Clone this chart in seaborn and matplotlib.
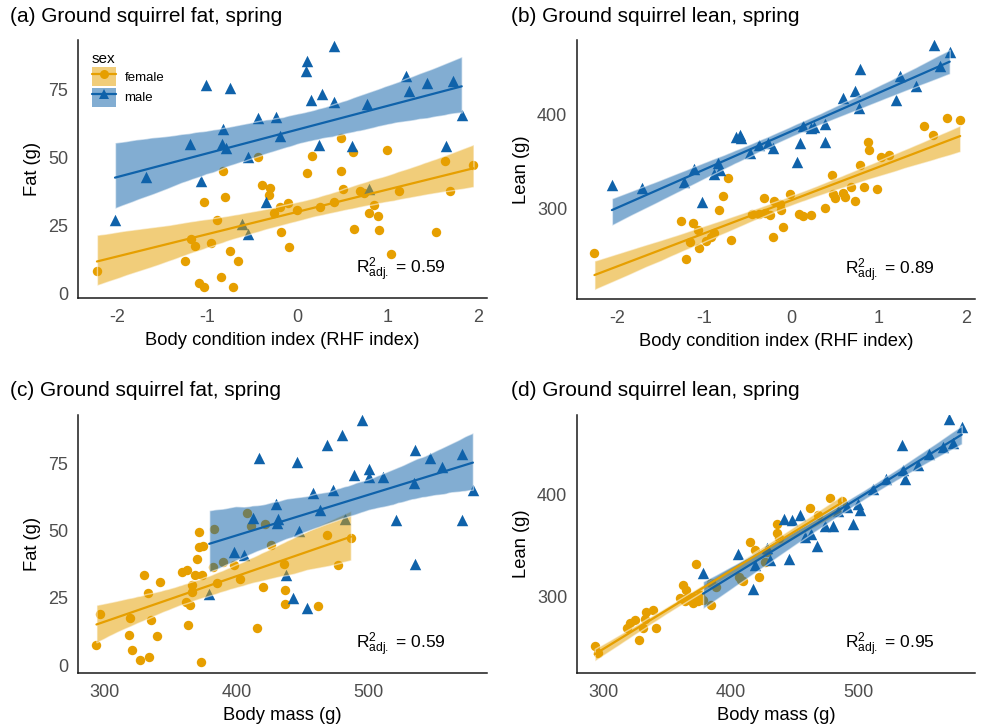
import numpy as np
import pandas as pd
import matplotlib
matplotlib.use("Agg")
import matplotlib.pyplot as plt
from matplotlib.collections import PolyCollection, PathCollection
from matplotlib.lines import Line2D
from matplotlib.patches import Patch
import seaborn as sns

# ---------------- data ----------------
# (a) fat vs body condition index
a_female_rhf = [-2.22, -1.25, -1.18, -1.13, -1.09, -1.03, -1.03, -0.96, -0.89, -0.85,
                -0.82, -0.80, -0.75, -0.71, -0.66, -0.44, -0.39, -0.30, -0.32, -0.26,
                -0.19, -0.18, -0.10, -0.09, 0.00, 0.11, 0.16, 0.25, 0.40, 0.48,
                0.48, 0.51, 0.62, 0.63, 0.69, 0.74, 0.85, 0.79, 0.89, 0.90,
                0.99, 1.04, 1.12, 1.53, 1.63, 1.69, 1.95]
a_female_fat = [8.3, 11.7, 19.9, 17.4, 3.7, 2.4, 33.8, 18.4, 27.0, 6.1,
                44.9, 35.3, 15.7, 2.1, 12.0, 50.2, 39.9, 38.7, 36.1, 29.7,
                31.7, 22.7, 33.4, 17.2, 30.7, 44.5, 50.6, 31.7, 33.8, 57.2,
                44.9, 38.4, 51.9, 23.6, 37.8, 36.8, 32.6, 29.5, 28.5, 23.4,
                52.9, 14.5, 37.8, 22.7, 48.9, 37.8, 47.3]
a_male_rhf = [-2.02, -1.68, -1.19, -1.07, -1.01, -0.82, -0.83, -0.79, -0.75, -0.61,
              -0.55, -0.55, -0.44, -0.35, -0.24, -0.19, 0.09, 0.11, 0.15, 0.24,
              0.27, 0.41, 0.41, 0.61, 0.77, 0.79, 1.20, 1.24, 1.43, 1.65,
              1.72, 1.82]
a_male_fat = [27.0, 42.8, 55.1, 41.5, 76.8, 60.5, 55.1, 53.5, 75.6, 25.6,
              50.4, 21.9, 64.5, 33.8, 65.1, 58.0, 81.8, 85.8, 71.3, 54.7,
              73.5, 91.2, 70.7, 54.3, 69.8, 38.4, 80.2, 74.4, 77.5, 54.3,
              78.4, 65.8]

# (b) lean vs body condition index
b_female_rhf = [-2.26, -1.27, -1.21, -1.16, -1.13, -1.07, -1.06, -0.98, -0.92, -0.89,
                -0.83, -0.79, -0.73, -0.69, -0.45, -0.37, -0.32, -0.31, -0.25, -0.21,
                -0.20, -0.12, -0.10, -0.13, -0.02, 0.08, 0.13, 0.22, 0.38, 0.46,
                0.47, 0.50, 0.59, 0.61, 0.68, 0.73, 0.78, 0.83, 0.87, 0.88,
                0.98, 1.02, 1.11, 1.52, 1.62, 1.78, 1.93]
b_female_lean = [252.4, 286.4, 245.3, 264.3, 284.6, 276.7, 257.2, 265.5, 269.1, 273.4,
                 298.2, 313.2, 332.1, 266.2, 293.9, 293.6, 310.7, 295.1, 292.6, 269.5,
                 308.2, 298.2, 279.6, 304.6, 315.3, 293.9, 291.8, 292.8, 300.0, 335.7,
                 315.3, 310.7, 316.4, 312.1, 323.2, 308.2, 346.4, 323.2, 371.4, 362.4,
                 320.6, 354.6, 357.1, 387.5, 378.6, 396.5, 394.0]
b_male_rhf = [-2.06, -1.72, -1.23, -1.12, -1.03, -0.89, -0.84, -0.82, -0.64, -0.59,
              -0.58, -0.48, -0.38, -0.27, -0.22, 0.06, 0.09, 0.13, 0.22, 0.25,
              0.38, 0.38, 0.59, 0.73, 0.77, 0.78, 1.19, 1.24, 1.42, 1.63,
              1.70, 1.81]
b_male_lean = [325.0, 321.4, 328.5, 341.8, 307.1, 336.8, 348.2, 341.1, 376.1, 378.6,
               375.0, 358.9, 367.8, 370.3, 364.2, 350.0, 369.6, 387.5, 385.7, 386.8,
               390.4, 371.4, 417.9, 425.0, 407.2, 449.0, 416.1, 441.1, 430.3, 475.0,
               452.5, 466.8]

# (c) fat vs body mass
c_female_mass = [293.7, 296.7, 318.5, 319.5, 320.3, 326.6, 333.6, 329.6, 332.9, 335.4,
                 339.7, 341.8, 358.2, 362.0, 361.5, 364.5, 363.3, 365.8, 365.8, 368.3,
                 373.4, 370.1, 371.6, 371.6, 374.6, 372.7, 382.8, 382.3, 389.4, 384.8,
                 397.9, 402.5, 407.6, 410.6, 415.7, 419.7, 421.5, 425.8, 435.9, 436.7,
                 436.7, 462.0, 468.3, 477.2, 486.6]
c_female_fat = [7.4, 19.2, 11.2, 17.4, 5.6, 1.9, 2.9, 33.5, 26.7, 16.7,
                10.8, 31.0, 34.7, 35.3, 23.5, 22.3, 14.9, 27.3, 29.8, 33.5,
                33.5, 39.3, 49.6, 44.0, 44.2, 1.2, 50.5, 36.6, 38.4, 30.4,
                37.4, 31.9, 56.6, 51.7, 14.0, 28.9, 52.4, 44.6, 37.8, 27.9,
                22.7, 21.9, 48.3, 37.2, 47.1]
c_male_mass = [379.2, 397.9, 405.5, 412.6, 417.2, 429.8, 431.6, 430.3, 437.4, 442.5,
               445.5, 447.5, 453.6, 458.2, 463.3, 468.3, 473.4, 479.7, 482.2, 488.6,
               494.9, 500.0, 500.0, 510.8, 521.0, 534.6, 535.4, 535.4, 546.8, 555.6,
               570.8, 570.8, 579.1]
c_male_fat = [26.4, 42.1, 40.9, 54.9, 76.9, 60.1, 54.5, 52.9, 33.5, 24.8,
              75.6, 49.9, 21.1, 64.1, 57.6, 81.8, 65.1, 85.5, 54.5, 70.7,
              91.1, 73.1, 70.0, 70.0, 53.9, 67.8, 80.0, 37.8, 77.2, 73.7,
              78.4, 53.9, 65.3]

# (d) lean vs body mass
d_female_mass = [293.5, 296.1, 318.4, 320.9, 324.9, 328.2, 331.4, 332.7, 334.0, 339.2,
                 341.9, 360.2, 362.7, 364.1, 364.9, 368.0, 370.6, 371.9, 372.7, 374.5,
                 375.8, 366.0, 369.0, 372.0, 378.0, 385.0, 385.0, 388.9, 406.7, 408.5,
                 409.3, 415.1, 419.0, 422.4, 426.8, 428.2, 436.5, 436.5, 438.0, 462.1,
                 468.6, 477.8, 487.0]
d_female_lean = [251.5, 244.3, 268.9, 273.8, 277.1, 256.7, 268.9, 277.8, 284.3, 286.9,
                 268.9, 298.4, 311.5, 295.1, 306.6, 296.8, 293.5, 298.4, 332.2, 295.1,
                 301.7, 299.0, 300.0, 297.0, 296.3, 291.8, 313.2, 309.8, 319.7, 316.4,
                 315.7, 354.1, 345.9, 319.7, 334.4, 344.2, 371.5, 362.3, 357.4, 386.9,
                 380.3, 396.8, 394.4]
d_male_mass = [378.4, 405.9, 417.4, 419.0, 428.6, 431.0, 441.5, 445.5, 447.8, 454.5,
               458.2, 463.0, 467.4, 474.2, 480.4, 484.3, 490.9, 495.6, 500.0, 501.3,
               511.8, 521.7, 534.0, 535.3, 536.6, 547.1, 555.7, 566.2, 571.4, 574.0,
               581.1]
d_male_lean = [323.6, 342.0, 307.8, 331.2, 347.6, 336.0, 376.1, 337.3, 375.0, 379.8,
               358.2, 361.5, 349.9, 369.2, 369.2, 384.6, 388.6, 371.8, 391.2, 385.3,
               405.6, 415.4, 449.2, 424.6, 415.4, 429.5, 440.3, 447.5, 474.4, 450.8,
               466.6]

panel_titles = ["(a) Ground squirrel fat, spring", "(b) Ground squirrel lean, spring",
                "(c) Ground squirrel fat, spring", "(d) Ground squirrel lean, spring"]
r2_labels = ["0.59", "0.89", "0.59", "0.95"]
sex_levels = ["female", "male"]

# ---------------- style ----------------
sns.set_style("white")
plt.rcParams["font.family"] = ["Liberation Sans", "DejaVu Sans"]
plt.rcParams["axes.unicode_minus"] = False
plt.rcParams["text.color"] = "black"
plt.rcParams["axes.labelcolor"] = "black"
plt.rcParams["mathtext.fontset"] = "custom"
plt.rcParams["mathtext.rm"] = "Liberation Sans"
plt.rcParams["mathtext.it"] = "Liberation Sans:italic"

COL = {"female": "#E69F00", "male": "#0F62AA"}
MARK = {"female": "o", "male": "^"}
SIZE = {"female": 46, "male": 68}
TICK_COL = "#4D4D4D"

fig = plt.figure(figsize=(9.81, 7.25), dpi=100)
W, H = 981, 725


def axes_px(left, top, right, bottom):
    return fig.add_axes([left / W, 1 - bottom / H, (right - left) / W, (bottom - top) / H])


ax_a = axes_px(78, 40, 487, 298)
ax_b = axes_px(577, 40, 975, 299)
ax_c = axes_px(78, 415, 487, 673)
ax_d = axes_px(577, 415, 975, 673)

panels = [
    (ax_a, a_female_rhf, a_female_fat, a_male_rhf, a_male_fat,
     "Body condition index (RHF index)", "Fat (g)", (-2.43, 2.10), (-1.8, 93.4),
     [-2, -1, 0, 1, 2], [0, 25, 50, 75]),
    (ax_b, b_female_rhf, b_female_lean, b_male_rhf, b_male_lean,
     "Body condition index (RHF index)", "Lean (g)", (-2.46, 2.10), (203, 480),
     [-2, -1, 0, 1, 2], [300, 400]),
    (ax_c, c_female_mass, c_female_fat, c_male_mass, c_male_fat,
     "Body mass (g)", "Fat (g)", (279.7, 589.8), (-2.9, 93.0),
     [300, 400, 500], [0, 25, 50, 75]),
    (ax_d, d_female_mass, d_female_lean, d_male_mass, d_male_lean,
     "Body mass (g)", "Lean (g)", (279.6, 591.5), (224.7, 478.7),
     [300, 400, 500], [300, 400]),
]

for i, (ax, fx, fy, mx, my, xlab, ylab, xlim, ylim, xt, yt) in enumerate(panels):
    df = pd.concat([
        pd.DataFrame({"x": fx, "y": fy, "sex": "female"}),
        pd.DataFrame({"x": mx, "y": my, "sex": "male"}),
    ], ignore_index=True)
    for sex in sex_levels:
        sub = df[df["sex"] == sex]
        sns.regplot(data=sub, x="x", y="y", ax=ax, color=COL[sex], marker=MARK[sex],
                    ci=95, n_boot=1000, seed=7, truncate=True,
                    scatter_kws={"s": SIZE[sex], "alpha": 1, "linewidths": 0, "zorder": 1},
                    line_kws={"lw": 1.6, "zorder": 3})
    # confidence ribbons sit above the points, lines above the ribbons
    for coll in ax.collections:
        if isinstance(coll, PolyCollection):
            coll.set_alpha(0.52)
            coll.set_zorder(2)
        elif isinstance(coll, PathCollection):
            coll.set_zorder(1)

    ax.set_xlim(*xlim)
    ax.set_ylim(*ylim)
    ax.set_xticks(xt)
    ax.set_yticks(yt)
    ax.set_xticklabels([str(v) for v in xt])
    ax.set_yticklabels([str(v) for v in yt])
    ax.tick_params(axis="both", length=0, labelsize=13, labelcolor=TICK_COL)
    ax.tick_params(axis="x", pad=8)
    ax.tick_params(axis="y", pad=7)
    ax.set_xlabel(xlab, fontsize=13.2, labelpad=4, color="black")
    ax.set_ylabel(ylab, fontsize=13.2, labelpad=5, color="black")
    for side in ["top", "right"]:
        ax.spines[side].set_visible(False)
    for side in ["left", "bottom"]:
        ax.spines[side].set_color("#1A1A1A")
        ax.spines[side].set_linewidth(1.1)
    ax.text(0.898, 0.055, r"$\mathregular{R^2_{adj.}}$ = " + r2_labels[i],
            transform=ax.transAxes, ha="right", va="bottom", fontsize=12.5,
            color="black")

# panel titles
title_pos = [(10, 17), (511, 17), (10, 390), (511, 390)]
for (tx, ty), t in zip(title_pos, panel_titles):
    fig.text(tx / W, 1 - ty / H, t, ha="left", va="center", fontsize=15, color="black")

# legend in panel (a)
handles = [
    (Patch(facecolor=COL[s], alpha=0.52, edgecolor="none"),
     Line2D([], [], color=COL[s], lw=1.6, marker=MARK[s], markersize=6.5,
            markeredgewidth=0))
    for s in sex_levels
]
leg = ax_a.legend(handles, sex_levels, title="sex", loc="upper left",
                  bbox_to_anchor=(0.015, 0.985), frameon=False, fontsize=9.5,
                  title_fontsize=11, handlelength=1.85, handleheight=1.85,
                  labelspacing=0.1, handletextpad=0.6, borderaxespad=0.2,
                  alignment="left")
for txt in leg.get_texts():
    txt.set_color("black")
leg.get_title().set_color("black")

fig.savefig("out.png", dpi=100)
